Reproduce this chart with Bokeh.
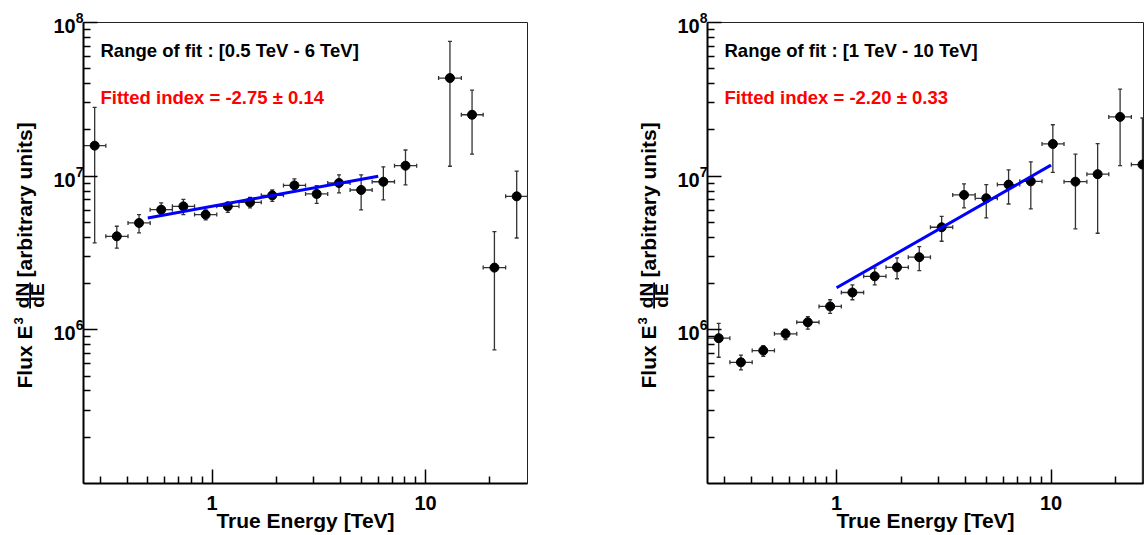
import math
from bokeh.plotting import figure
from bokeh.layouts import row
from bokeh.models import (ColumnDataSource, Label, FixedTicker, BasicTickFormatter,
                          LogTickFormatter, Range1d)
from bokeh.core.properties import value
from bokeh.embed import file_html
from bokeh.resources import INLINE

# ---------------- data ----------------
energy = [0.282, 0.358, 0.455, 0.578, 0.734, 0.933, 1.185, 1.506, 1.914, 2.43,
          3.09, 3.93, 4.99, 6.34, 8.05, 10.2, 13.0, 16.5, 21.0, 26.7]
bin_lo = [0.25, 0.318, 0.404, 0.513, 0.652, 0.828, 1.052, 1.337, 1.70, 2.16,
          2.74, 3.48, 4.43, 5.62, 7.15, 9.08, 11.5, 14.7, 18.6, 23.7]
bin_hi = [0.318, 0.404, 0.513, 0.652, 0.828, 1.052, 1.337, 1.70, 2.16, 2.74,
          3.48, 4.43, 5.62, 7.15, 9.08, 11.5, 14.7, 18.6, 23.7, 30.0]

left_flux = [1.58e7, 4.06e6, 4.96e6, 6.05e6, 6.36e6, 5.62e6, 6.36e6, 6.76e6, 7.50e6, 8.71e6,
             7.66e6, 9.03e6, 8.13e6, 9.2e6, 1.17e7, None, 4.35e7, 2.51e7, 2.54e6, 7.39e6]
left_hi = [2.8e7, 4.72e6, 5.62e6, 6.7e6, 7.07e6, 6.03e6, 6.76e6, 7.28e6, 8.13e6, 9.6e6,
           8.67e6, 1.02e7, 1.02e7, 1.15e7, 1.48e7, None, 7.53e7, 3.63e7, 4.36e6, 1.08e7]
left_lo = [3.68e6, 3.40e6, 4.27e6, 5.62e6, 5.62e6, 5.19e6, 5.82e6, 6.21e6, 6.86e6, 7.96e6,
           6.65e6, 7.78e6, 6.03e6, 7.0e6, 8.77e6, None, 1.16e7, 1.39e7, 7.41e5, 3.96e6]

right_flux = [8.82e5, 6.15e5, 7.33e5, 9.42e5, 1.12e6, 1.42e6, 1.75e6, 2.23e6, 2.55e6, 2.97e6,
              4.65e6, 7.55e6, 7.18e6, 8.81e6, 9.25e6, 1.62e7, 9.21e6, 1.03e7, 2.43e7, 1.19e7]
right_hi = [1.10e6, 6.85e5, 7.9e5, 1.01e6, 1.22e6, 1.57e6, 1.96e6, 2.52e6, 2.94e6, 3.48e6,
            5.48e6, 8.9e6, 8.81e6, 1.10e7, 1.24e7, 2.16e7, 1.39e7, 1.63e7, 3.69e7, 2.39e7]
right_lo = [6.63e5, 5.48e5, 6.73e5, 8.65e5, 1.01e6, 1.28e6, 1.57e6, 1.96e6, 2.15e6, 2.43e6,
            3.77e6, 6.21e6, 5.35e6, 6.59e6, 6.12e6, 1.06e7, 4.54e6, 4.25e6, 1.17e7, 1.0e4]

left_fit_e = [0.5, 6.0]
left_fit_flux = [5.35e6, 1.0e7]
right_fit_e = [1.0, 10.0]
right_fit_flux = [1.88e6, 1.18e7]

left_range_text = "Range of fit : [0.5 TeV - 6 TeV]"
left_index_text = "Fitted index = -2.75 \u00b1 0.14"
right_range_text = "Range of fit : [1 TeV - 10 TeV]"
right_index_text = "Fitted index = -2.20 \u00b1 0.33"
x_title = "True Energy [TeV]"

x_major = [1, 10]
y_major = [1e6, 1e7, 1e8]

FONT = "Liberation Sans"
ERR = "#333333"
H = 535
TW = 48            # width of the y-title strip
BL = 35            # left border of each plot (tick labels)
FRAME_TOP = 22     # pixel rows of the plot frame
FRAME_BOTTOM = 483


def title_strip():
    # the row layout aligns this strip's frame with the plot frame next to it,
    # so its y range is expressed in "pixels from the page bottom"
    t = figure(width=TW, height=H, x_range=Range1d(0, TW),
               y_range=Range1d(H - FRAME_BOTTOM, H - FRAME_TOP),
               output_backend="svg", toolbar_location=None, title=None,
               x_axis_location=None, y_axis_location=None,
               min_border_left=0, min_border_right=0, min_border_top=0, min_border_bottom=0,
               background_fill_color="white", border_fill_color="white")
    t.outline_line_color = None
    t.xgrid.visible = False
    t.ygrid.visible = False
    a = math.pi / 2

    def txt(s, x, y_img, size, align):
        t.text(x=[x], y=[H - y_img], text=[s], angle=a, text_font=value(FONT),
               text_font_style="bold", text_font_size=value(size),
               text_align=align, text_baseline="middle", text_color="black")
    txt("Flux E", 24.0, 388, "21px", "left")
    txt("3", 18.0, 324, "13px", "left")
    txt("dN", 22.3, 295, "19px", "center")
    txt("dE", 37.0, 295, "19px", "center")
    txt("[arbitrary units]", 24.0, 277, "21px", "left")
    t.segment(x0=[29.6], x1=[29.6], y0=[H - 308], y1=[H - 282], line_color="black", line_width=1.8)
    return t


def make_panel(width, b_right, x_end, flux, hi, lo, fit_e, fit_f, t1, t2):
    p = figure(width=width, height=H, x_axis_type="log", y_axis_type="log",
               x_range=Range1d(0.25, x_end), y_range=Range1d(1e5, 1e8),
               output_backend="svg", toolbar_location=None,
               min_border_left=BL, min_border_right=b_right,
               min_border_top=FRAME_TOP, min_border_bottom=H - FRAME_BOTTOM,
               background_fill_color="white", border_fill_color="white")
    p.outline_line_color = "#222222"
    p.outline_line_width = 1
    p.xgrid.grid_line_color = None
    p.ygrid.grid_line_color = None

    x_minor = [m / 10 for m in range(3, 10)] + list(range(2, 10)) + [20]
    y_minor = [m * 10 ** k for k in (5, 6, 7) for m in range(2, 10)]
    p.xaxis.ticker = FixedTicker(ticks=x_major, minor_ticks=x_minor)
    p.xaxis.formatter = BasicTickFormatter()
    p.yaxis.ticker = FixedTicker(ticks=y_major, minor_ticks=y_minor)
    p.yaxis.formatter = LogTickFormatter()
    for ax in (p.xaxis, p.yaxis):
        ax.axis_line_width = 2
        ax.axis_line_color = "black"
        ax.major_tick_in = 14
        ax.major_tick_out = 0
        ax.minor_tick_in = 7
        ax.minor_tick_out = 0
        ax.major_tick_line_width = 1.5
        ax.minor_tick_line_width = 1.5
        ax.major_label_text_font = FONT
        ax.major_label_text_font_style = "bold"
        ax.major_label_text_font_size = "20px"
        ax.major_label_text_color = "black"
    p.xaxis.major_label_standoff = 12
    p.yaxis.major_label_standoff = 0
    p.xaxis.axis_label = x_title
    p.xaxis.axis_label_text_font = FONT
    p.xaxis.axis_label_text_font_style = "bold"
    p.xaxis.axis_label_text_font_size = "21px"
    p.xaxis.axis_label_text_color = "black"
    p.xaxis.axis_label_standoff = -4

    rows = [i for i, f in enumerate(flux) if f is not None]
    src = ColumnDataSource(dict(
        e=[energy[i] for i in rows], f=[flux[i] for i in rows],
        hi=[hi[i] for i in rows], lo=[lo[i] for i in rows],
        elo=[bin_lo[i] for i in rows], ehi=[bin_hi[i] for i in rows]))

    p.segment(x0="elo", x1="ehi", y0="f", y1="f", source=src, line_color=ERR, line_width=1.3)
    p.segment(x0="e", x1="e", y0="lo", y1="hi", source=src, line_color=ERR, line_width=1.3)
    p.scatter(x="e", y="hi", source=src, marker="dash", size=4, line_color=ERR, line_width=1.3)
    p.scatter(x="e", y="lo", source=src, marker="dash", size=4, line_color=ERR, line_width=1.3)
    p.scatter(x="elo", y="f", source=src, marker="dash", angle=math.pi / 2, size=4,
              line_color=ERR, line_width=1.3)
    p.scatter(x="ehi", y="f", source=src, marker="dash", angle=math.pi / 2, size=4,
              line_color=ERR, line_width=1.3)
    p.scatter(x="e", y="f", source=src, marker="circle", size=9,
              fill_color="black", line_color="black")

    p.line(fit_e, fit_f, line_color="#0000ff", line_width=3)

    p.add_layout(Label(x=17, y=433, x_units="screen", y_units="screen", text=t1,
                       text_font=FONT, text_font_style="bold", text_font_size="18.5px",
                       text_color="black", text_baseline="middle"))
    p.add_layout(Label(x=17, y=386, x_units="screen", y_units="screen", text=t2,
                       text_font=FONT, text_font_style="bold", text_font_size="18.5px",
                       text_color="#ff0000", text_baseline="middle"))
    return p


p1 = make_panel(624 - TW, 624 - TW - BL - 444, 30.0, left_flux, left_hi, left_lo,
                left_fit_e, left_fit_flux, left_range_text, left_index_text)
p2 = make_panel(1144 - 624 - TW, 1, 27.0, right_flux, right_hi, right_lo,
                right_fit_e, right_fit_flux, right_range_text, right_index_text)

layout = row(title_strip(), p1, title_strip(), p2)
open("out.html", "w").write(file_html(layout, INLINE))
